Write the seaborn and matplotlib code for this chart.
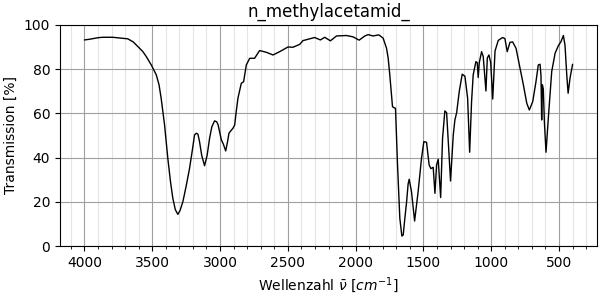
import matplotlib
matplotlib.use("Agg")
import matplotlib.pyplot as plt
from matplotlib.ticker import MultipleLocator
import seaborn as sns
import pandas as pd

wavenumber = [4000, 3963, 3900, 3865, 3791, 3729, 3680, 3640, 3606, 3570, 3544, 3507, 3470, 3450,
              3434, 3420, 3409, 3395, 3385, 3365, 3348, 3330, 3311, 3295, 3274, 3250, 3225, 3200,
              3188, 3175, 3163, 3151, 3135, 3114, 3095, 3077, 3060, 3040, 3025, 3015, 2990, 2975,
              2958, 2945, 2934, 2915, 2905, 2892, 2880, 2868, 2843, 2826, 2806, 2781, 2745, 2708,
              2658, 2609, 2560, 2499, 2462, 2412, 2388, 2338, 2302, 2260, 2228, 2186, 2141, 2068,
              2019, 1974, 1932, 1908, 1871, 1829, 1797, 1772, 1760, 1748, 1728, 1715, 1706, 1691,
              1674, 1659, 1649, 1637, 1624, 1613, 1605, 1588, 1565, 1539, 1514, 1497, 1477, 1458,
              1445, 1428, 1415, 1403, 1391, 1373, 1359, 1342, 1329, 1300, 1280, 1268, 1255, 1236,
              1214, 1194, 1174, 1159, 1145, 1133, 1113, 1103, 1096, 1088, 1071, 1059, 1039, 1029,
              1017, 1004, 989, 972, 948, 916, 899, 882, 862, 842, 817, 788, 763, 738, 719, 694,
              670, 653, 640, 633, 628, 623, 616, 608, 596, 579, 554, 529, 505, 485, 468, 456, 443,
              433, 419, 400]
transmission = [93.2, 93.5, 94.2, 94.4, 94.4, 94.0, 93.7, 92.3, 90.2, 88.0, 85.7, 81.9, 77.4, 73.0,
                66.8, 60.0, 54.8, 46.0, 39.7, 29.0, 21.6, 16.5, 14.3, 16.0, 20.0, 27.0, 35.0, 45.0,
                50.2, 51.0, 50.6, 47.2, 41.0, 36.3, 41.0, 48.7, 54.0, 56.6, 56.2, 55.0, 48.0, 46.0,
                43.0, 47.0, 51.0, 52.5, 53.2, 54.7, 61.0, 66.8, 73.6, 74.3, 81.9, 84.9, 84.9, 88.4,
                87.6, 86.4, 87.9, 90.0, 89.9, 91.2, 92.9, 93.7, 94.3, 93.2, 94.4, 92.8, 95.0, 95.2,
                94.6, 93.1, 95.0, 95.6, 95.0, 95.5, 94.0, 89.4, 85.0, 77.4, 63.0, 62.5, 62.3, 36.7,
                12.5, 4.5, 5.0, 12.5, 20.0, 28.0, 30.2, 24.6, 11.3, 24.6, 39.7, 47.2, 46.9, 36.7,
                35.0, 35.6, 23.8, 36.7, 39.2, 21.9, 48.7, 61.1, 60.3, 29.4, 50.2, 57.0, 60.3, 69.8,
                77.7, 76.8, 66.8, 42.4, 65.3, 77.4, 83.4, 82.9, 76.2, 83.0, 87.9, 85.7, 70.1, 85.0,
                86.4, 83.0, 66.5, 88.2, 93.0, 94.3, 93.8, 87.9, 92.1, 92.3, 89.4, 80.4, 72.9, 64.6,
                61.5, 65.3, 74.3, 81.9, 82.2, 77.0, 57.0, 72.9, 71.0, 56.2, 42.4, 57.8, 78.9, 87.2,
                90.6, 92.5, 95.2, 90.8, 77.4, 69.1, 75.9, 82.2]

title = "n_methylacetamid_"
xlabel = r"Wellenzahl $\bar{\nu}$ [$cm^{-1}$]"
ylabel = "Transmission [%]"

sns.set_style("white")
plt.rcParams['font.family'] = ['DejaVu Sans']
plt.rcParams['text.color'] = 'black'
plt.rcParams['axes.labelcolor'] = 'black'
plt.rcParams['xtick.color'] = 'black'
plt.rcParams['ytick.color'] = 'black'

df = pd.DataFrame({"x": wavenumber, "y": transmission})

fig, ax = plt.subplots(figsize=(6, 3), dpi=100)
sns.lineplot(data=df, x="x", y="y", ax=ax, color="black", linewidth=1.0, sort=False)

ax.set_ylim(0, 100)
ax.invert_xaxis()
ax.xaxis.set_major_locator(MultipleLocator(500))
ax.xaxis.set_minor_locator(MultipleLocator(100))
ax.yaxis.set_major_locator(MultipleLocator(20))
ax.grid(which="major", axis="both", color="#a0a0a0", linewidth=0.8)
ax.grid(which="minor", axis="x", color="#e4e4e4", linewidth=0.8)
ax.set_axisbelow(True)
ax.tick_params(which="both", direction="out", bottom=True, left=True)
ax.tick_params(which="major", length=3.5, width=0.8)
ax.tick_params(which="minor", length=2, width=0.6)
for s in ax.spines.values():
    s.set_color("black")
    s.set_linewidth(0.8)

ax.set_title(title, fontsize=12)
ax.set_xlabel(xlabel)
ax.set_ylabel(ylabel)
fig.subplots_adjust(left=0.1, right=0.995, top=0.917, bottom=0.18)
fig.savefig("out.png", dpi=100)
